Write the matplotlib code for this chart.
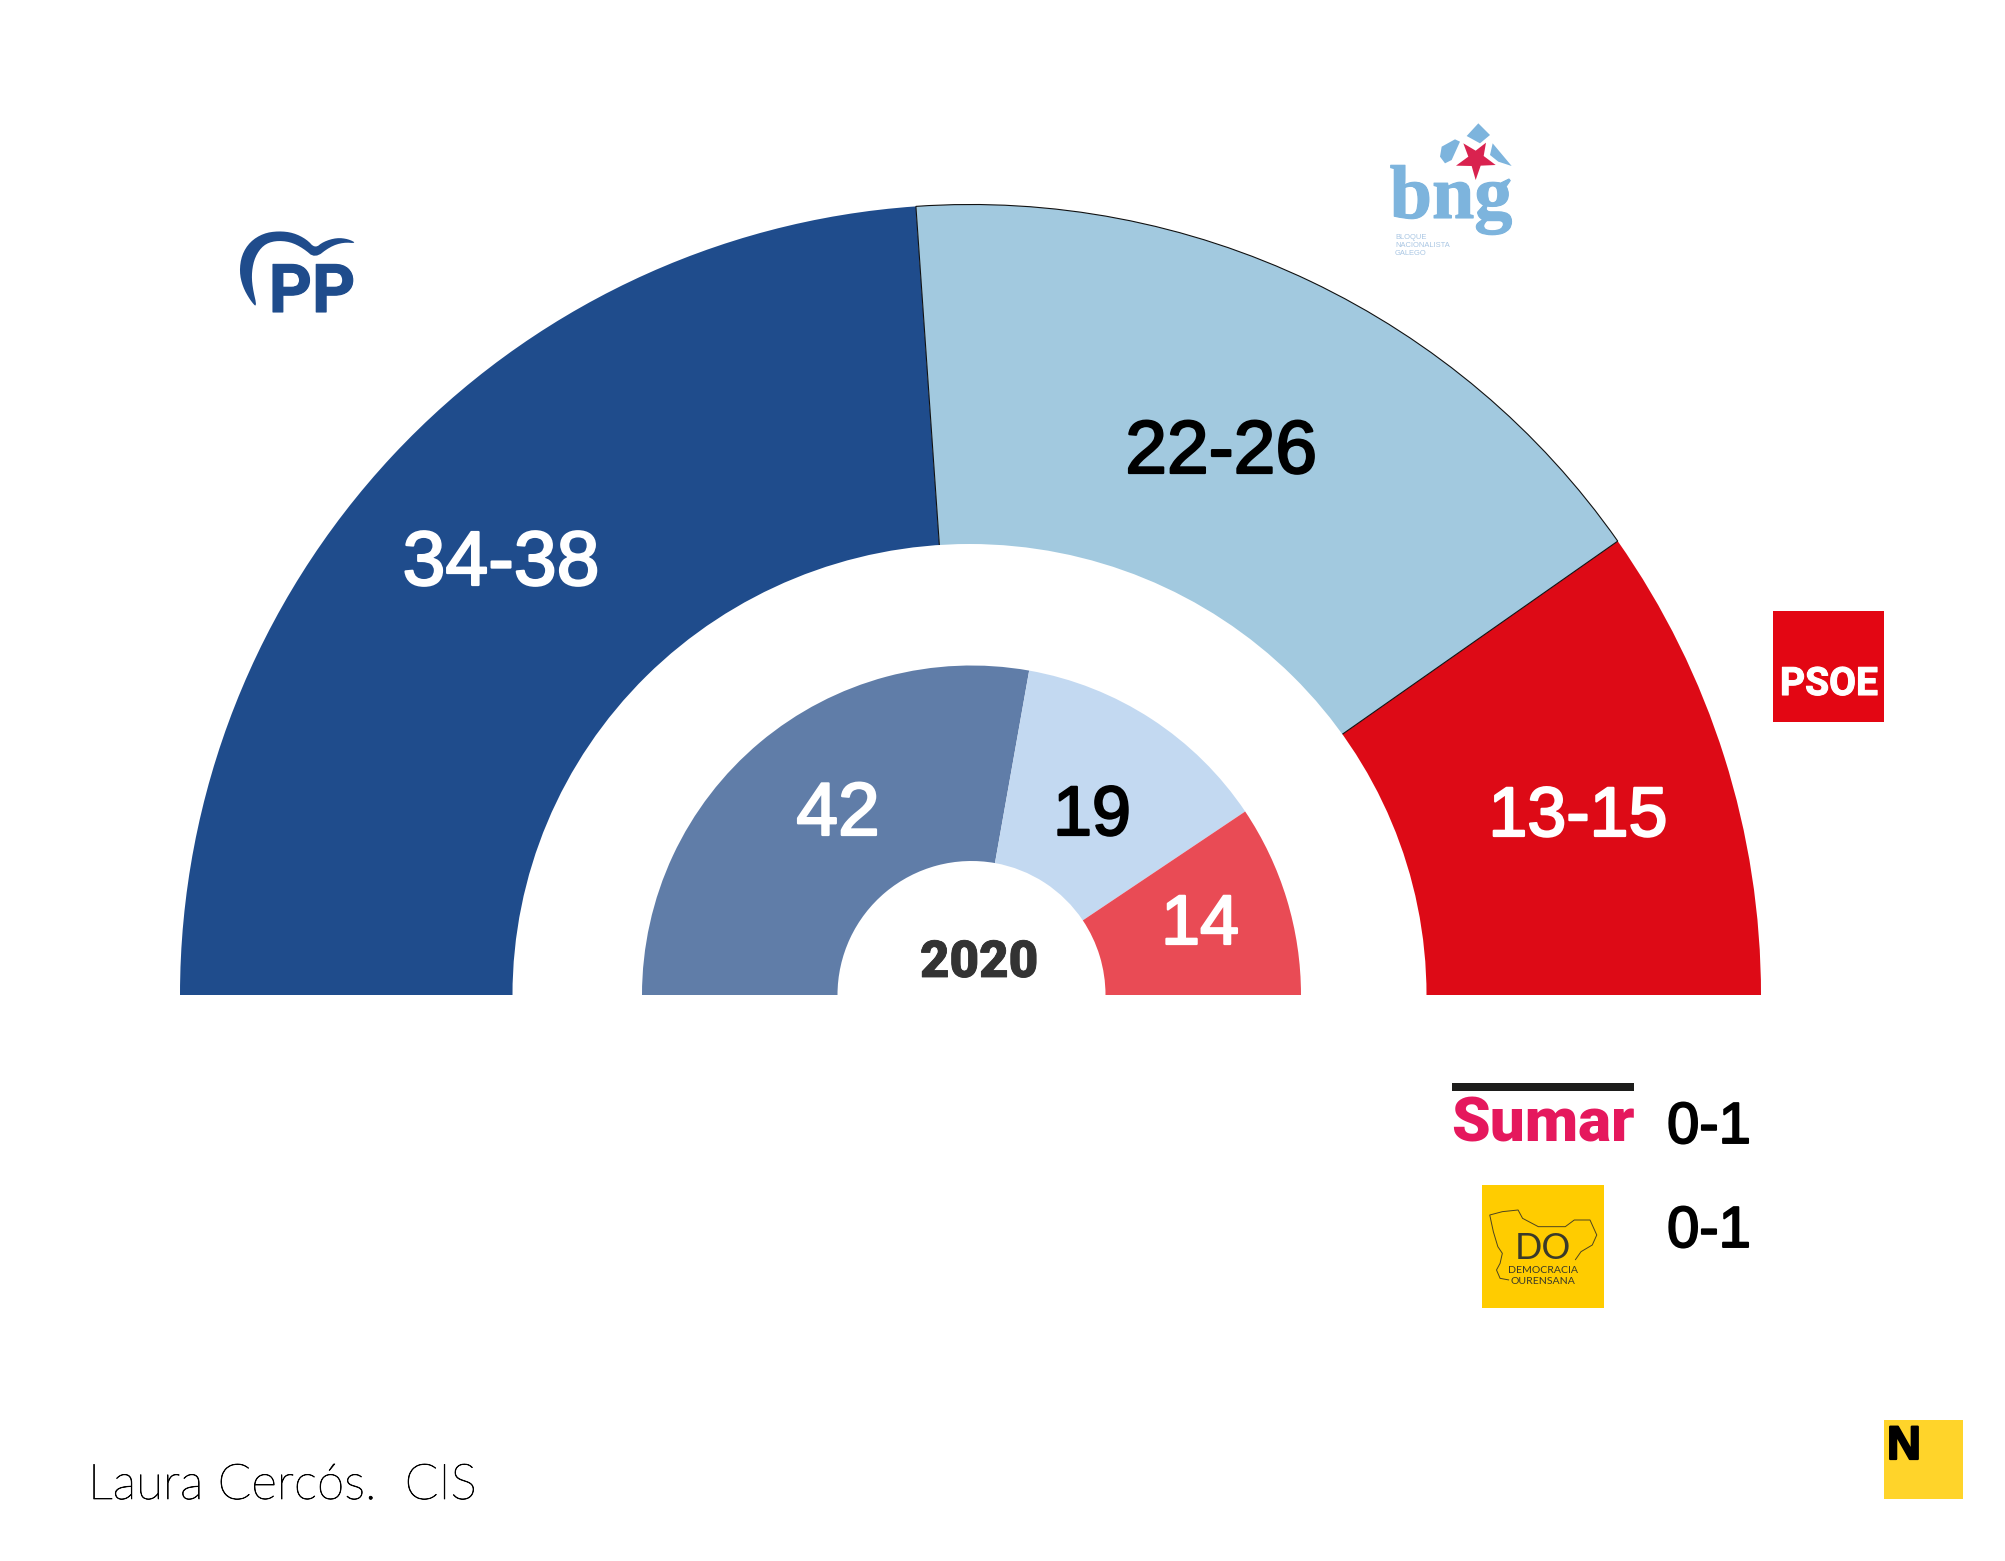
import numpy as np
import matplotlib
matplotlib.use("Agg")
import matplotlib.pyplot as plt
import matplotlib.patheffects as pe
from matplotlib.patches import Wedge, Ellipse, Rectangle, Polygon

# ---- data ----
parties = ["PP", "BNG", "PSOE"]
seats_2024 = [35.85, 24.55, 14.6]
labels_2024 = ["34-38", "22-26", "13-15"]
seats_2020 = [41.7, 19.2, 14.1]
labels_2020 = ["42", "19", "14"]
colors_2024 = ["#1f4c8c", "#a2c9df", "#dd0a16"]
colors_2020 = ["#607da8", "#c3d9f1", "#e94b55"]
minor_parties = ["Sumar", "DO"]
minor_labels = ["0-1", "0-1"]
year_label = "2020"
credit = "Laura Cercós.  CIS"

W, H = 2005, 1561
fig = plt.figure(figsize=(W / 100, H / 100), dpi=100, facecolor="white")
ax = fig.add_axes([0, 0, 1, 1])
ax.set_xlim(0, W)
ax.set_ylim(0, H)
ax.axis("off")

def Y(y):
    return H - y

def fs(px):
    return px * 0.72

SANS = "Liberation Sans"

def T(x, y, s, px, color="black", ha="center", family=SANS, weight="normal", stroke=0.0, va="baseline", z=10):
    t = ax.text(x, Y(y), s, fontsize=fs(px), color=color, ha=ha, va=va, family=family, weight=weight, zorder=z)
    if stroke:
        t.set_path_effects([pe.withStroke(linewidth=stroke, foreground=color)])
    return t

def chaikin(pts, n=3):
    p = np.asarray(pts, dtype=float)
    for _ in range(n):
        q = np.roll(p, -1, axis=0)
        p = np.column_stack([0.75 * p + 0.25 * q, 0.25 * p + 0.75 * q]).reshape(-1, 2)
    return p

def poly_zoom(pts, ox, oy, sx, sy, **kw):
    P = [(ox + a / sx, Y(oy + b / sy)) for a, b in pts]
    ax.add_patch(Polygon(P, closed=kw.pop("closed", True), **kw))

CX, CY = 970.5, Y(995)
R_OUT, R_CUT = 790.5, 440
HOLE_W, HOLE_H = 457, 451
R2_OUT, R2_IN = 329.5, 134
CX2 = 971.5

def half_donut(values, colors):
    total = sum(values)
    a = 180.0
    out = []
    for v, c in zip(values, colors):
        b = a - 180.0 * v / total
        out.append((b, a, c))
        a = b
    return out

# outer half-ring
segs = half_donut(seats_2024, colors_2024)
for i in [0, 2]:
    b, a, c = segs[i]
    ax.add_patch(Wedge((CX, CY), R_OUT, b, a, width=R_OUT - R_CUT, facecolor=c, edgecolor="none", zorder=1))
b, a, c = segs[1]
ax.add_patch(Wedge((CX, CY), R_OUT, b, a, width=R_OUT - R_CUT, facecolor=c, edgecolor="#111111", linewidth=0.8, zorder=2))
ax.add_patch(Ellipse((969.5, CY), 2 * HOLE_W, 2 * HOLE_H, facecolor="white", edgecolor="none", zorder=3))

# inner half-ring
for b, a, c in half_donut(seats_2020, colors_2020):
    ax.add_patch(Wedge((CX2, CY), R2_OUT, b, a, width=R2_OUT - R2_IN, facecolor=c, edgecolor="none", zorder=4))

# white mask below the baseline
ax.add_patch(Rectangle((0, 0), W, CY, facecolor="white", edgecolor="none", zorder=5))

# value labels
pos_2024 = [(501, 585), (1221, 473), (1578, 836)]
size_2024 = [77, 75, 70]
lab_col_2024 = ["white", "black", "white"]
for (x, y), px, s, c in zip(pos_2024, size_2024, labels_2024, lab_col_2024):
    T(x, y, s, px, color=c, stroke=1.6)
pos_2020 = [(838, 835), (1092, 835), (1200, 944)]
size_2020 = [75, 70, 70]
lab_col_2020 = ["white", "black", "white"]
for (x, y), px, s, c in zip(pos_2020, size_2020, labels_2020, lab_col_2020):
    T(x, y, s, px, color=c, stroke=1.6)
T(979, 977, year_label, 51, color="#333333", family="Roboto", weight=900, stroke=0.6)
for y, s in zip([1143, 1247], minor_labels):
    T(1709, y, s, 58, stroke=1.4)

# PP logo
PP = "#1f4c8c"
crescent = [(172, 325), (150, 300), (128, 260), (118, 215), (125, 165), (150, 125), (190, 100), (235, 93), (280, 98),
            (320, 118), (345, 145), (370, 125), (410, 113), (445, 117), (470, 130), (430, 127), (390, 140), (345, 175),
            (310, 145), (270, 125), (225, 122), (190, 135), (165, 170), (155, 215), (157, 260)]
poly_zoom(chaikin(crescent, 2), 200, 200, 3, 3, facecolor=PP, edgecolor="none", zorder=6)
T(312, 312, "PP", 67, color=PP, family="Roboto", weight="bold", stroke=0.8)

# BNG logo
BL = "#7db4dd"
T(1451, 218, "bng", 76, color=BL, family="Liberation Serif", weight="bold", stroke=0.8)
poly_zoom([(355, 70), (390, 105), (360, 130), (320, 108)], 1360, 100, 3, 3, facecolor=BL, edgecolor="none", zorder=6)
poly_zoom([(285, 118), (300, 125), (275, 180), (255, 190), (240, 170), (245, 140)], 1360, 100, 3, 3, facecolor=BL, edgecolor="none", zorder=6)
poly_zoom([(398, 130), (455, 198), (415, 185), (390, 165)], 1360, 100, 3, 3, facecolor=BL, edgecolor="none", zorder=6)
poly_zoom([(378, 128), (371, 168), (407, 195), (362, 197), (347, 240), (335, 198), (288, 197), (325, 170), (310, 130), (347, 152)],
          1360, 100, 3, 3, facecolor="#d9224f", edgecolor="none", zorder=7)
for y, s in zip([239, 247, 255], ["BLOQUE", "NACIONALISTA", "GALEGO"]):
    T(1395, y, s, 7.5, color="#a9c6e3", ha="left")

# PSOE logo
ax.add_patch(Rectangle((1773, Y(722)), 111, 111, facecolor="#e30613", edgecolor="none", zorder=6))
T(1829, 695, "PSOE", 39, color="white", family="Roboto", weight="bold", stroke=0.8)

# Sumar logo
ax.add_patch(Rectangle((1452, Y(1091)), 182, 8, facecolor="#1d1d1b", edgecolor="none", zorder=6))
T(1543, 1141, minor_parties[0], 62, color="#e5185d", family="Roboto", weight=900)

# DO logo
ax.add_patch(Rectangle((1482, Y(1308)), 122, 123, facecolor="#ffcc00", edgecolor="none", zorder=6))
poly_zoom([(465, 690), (445, 685), (437, 660), (445, 640), (450, 610), (440, 590), (430, 545), (422, 495), (450, 485),
           (485, 480), (495, 505), (530, 530), (560, 530), (590, 530), (610, 510), (645, 510), (660, 555), (650, 585),
           (625, 605), (612, 630)], 1300, 1050, 2.224, 3, closed=False, fill=False, edgecolor="#4d4420", linewidth=0.7, zorder=7)
DK = "#3a3a2a"
T(1543, 1259, minor_parties[1], 36, color=DK, family="Lato")
T(1543, 1273, "DEMOCRACIA", 10.5, color=DK, family="Lato")
T(1543, 1284, "OURENSANA", 10.5, color=DK, family="Lato")

# corner mark
ax.add_patch(Rectangle((1884, Y(1499)), 79, 79, facecolor="#ffd42a", edgecolor="none", zorder=6))
T(1887, 1459, "N", 47, ha="left", weight="bold", stroke=1.6)

# credit
T(88, 1499, credit, 49.5, color="black", ha="left", family="Lato", weight="light", stroke=0.5)

fig.savefig("out.png", dpi=100, facecolor="white")
